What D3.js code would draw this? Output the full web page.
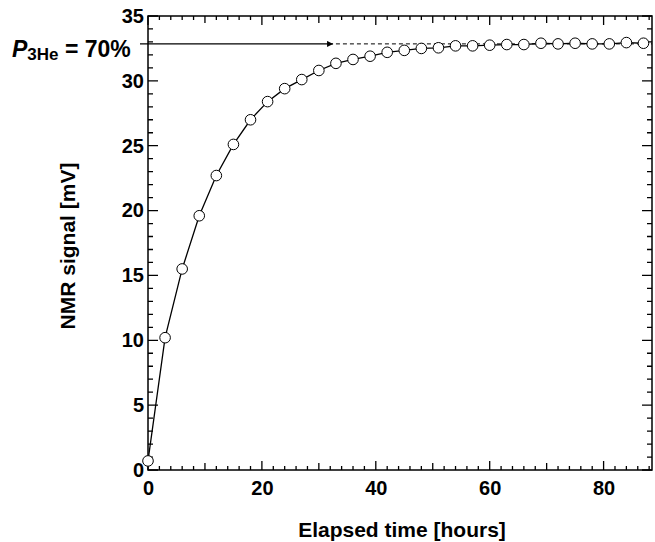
<!DOCTYPE html>
<html>
<head>
<meta charset="utf-8">
<script src="https://cdn.jsdelivr.net/npm/d3@7"></script>
<style>
  html, body { margin: 0; padding: 0; background: #fff; overflow: hidden; }
  svg { display: block; font-family: "Liberation Sans", Arial, Helvetica, sans-serif; }
  .axis text { font-size: 20px; font-weight: bold; fill: #000; }
</style>
</head>
<body>
<div id="chart"></div>
<script>
// elapsed time [hours]
const hours = [0, 3, 6, 9, 12, 15, 18, 21, 24, 27, 30, 33, 36, 39, 42, 45, 48, 51, 54, 57, 60, 63, 66, 69, 72, 75, 78, 81, 84, 87]
// NMR signal [mV]
const signal = [0.7, 10.2, 15.5, 19.6, 22.7, 25.1, 27.0, 28.4, 29.4, 30.1, 30.8, 31.35, 31.65, 31.9, 32.2, 32.35, 32.5, 32.55, 32.7, 32.7, 32.75, 32.8, 32.8, 32.9, 32.85, 32.9, 32.85, 32.85, 32.95, 32.9]
// saturation level (P_3He = 70%)
const saturation = 32.85
const xMajorTicks = [0, 20, 40, 60, 80]
const yMajorTicks = [0, 5, 10, 15, 20, 25, 30, 35]

const width = 655
const height = 542
const mLeft = 148, mRight = 652, mTop = 16, mBottom = 470

const svg = d3.select('#chart').append('svg')
  .attr('width', width)
  .attr('height', height)

const x = d3.scaleLinear().domain([0, 88.5]).range([mLeft, mRight])
const y = d3.scaleLinear().domain([0, 35]).range([mBottom, mTop])

// 目盛りの長さ
const xTickLen = (v) => v % 20 === 0 ? 9 : (v % 10 === 0 ? 7 : 4)
const yTickLen = (v) => v % 5 === 0 ? 10 : 5
const xTickVals = d3.range(0, 89, 2).concat(d3.range(10, 89, 20))
const yTickVals = d3.range(0, 36, 1)

// 枠線
svg.append('rect')
  .attr('x', mLeft).attr('y', mTop)
  .attr('width', mRight - mLeft).attr('height', mBottom - mTop)
  .attr('fill', 'none').attr('stroke', '#000').attr('stroke-width', 1.5)

// 内向きの目盛り線（1本のpathにまとめる）
const tickPath = d3.path()
xTickVals.forEach((v) => {
  tickPath.moveTo(x(v), mBottom)
  tickPath.lineTo(x(v), mBottom - xTickLen(v))
  tickPath.moveTo(x(v), mTop)
  tickPath.lineTo(x(v), mTop + xTickLen(v))
})
yTickVals.forEach((v) => {
  tickPath.moveTo(mLeft, y(v))
  tickPath.lineTo(mLeft + yTickLen(v), y(v))
  tickPath.moveTo(mRight, y(v))
  tickPath.lineTo(mRight - yTickLen(v), y(v))
})
svg.append('path')
  .attr('d', tickPath.toString())
  .attr('fill', 'none')
  .attr('stroke', '#000')
  .attr('stroke-width', 1.3)

// 目盛りラベル
const xAxisG = svg.append('g').attr('class', 'axis')
  .attr('transform', `translate(0,${mBottom})`)
  .call(d3.axisBottom(x).tickValues(xMajorTicks).tickSize(0).tickPadding(0).tickFormat(d3.format('d')))
xAxisG.select('.domain').remove()
xAxisG.selectAll('text').attr('y', 11)

const yAxisG = svg.append('g').attr('class', 'axis')
  .attr('transform', `translate(${mLeft},0)`)
  .call(d3.axisLeft(y).tickValues(yMajorTicks).tickSize(0).tickPadding(0).tickFormat(d3.format('d')))
yAxisG.select('.domain').remove()
yAxisG.selectAll('text').attr('x', -4)

// 飽和レベルの矢印と破線
svg.append('defs').append('marker')
  .attr('id', 'arrow')
  .attr('viewBox', '0 0 10 10')
  .attr('refX', 10).attr('refY', 5)
  .attr('markerWidth', 13).attr('markerHeight', 6)
  .attr('markerUnits', 'userSpaceOnUse')
  .attr('orient', 'auto')
  .append('path').attr('d', 'M0,0 L10,5 L0,10 Z').attr('fill', '#000')

svg.append('line')
  .attr('x1', x(33)).attr('x2', x(88.5))
  .attr('y1', y(saturation)).attr('y2', y(saturation))
  .attr('stroke', '#000').attr('stroke-width', 1)
  .attr('stroke-dasharray', '4,3')

svg.append('line')
  .attr('x1', mLeft - 8).attr('x2', x(32.5))
  .attr('y1', y(saturation)).attr('y2', y(saturation))
  .attr('stroke', '#000').attr('stroke-width', 1.3)
  .attr('marker-end', 'url(#arrow)')

// データ
const data = hours.map((h, i) => ({ h: h, v: signal[i] }))

svg.append('path')
  .datum(data)
  .attr('fill', 'none')
  .attr('stroke', '#000')
  .attr('stroke-width', 1.3)
  .attr('d', d3.line().x(d => x(d.h)).y(d => y(d.v)))

svg.append('g')
  .selectAll('circle')
  .data(data)
  .enter()
  .append('circle')
  .attr('cx', d => x(d.h))
  .attr('cy', d => y(d.v))
  .attr('r', 5.3)
  .attr('fill', '#fff')
  .attr('stroke', '#000')
  .attr('stroke-width', 1)

// ラベル
const pLabel = svg.append('text')
  .attr('x', 12).attr('y', 57)
  .attr('font-size', 23).attr('font-weight', 'bold')
pLabel.append('tspan').attr('font-style', 'italic').text('P')
pLabel.append('tspan').attr('font-size', 17).attr('dy', 3).text('3He')
pLabel.append('tspan').attr('dy', -3).text(' = 70%')

svg.append('text')
  .attr('x', (mLeft + mRight) / 2 + 2).attr('y', 537)
  .attr('text-anchor', 'middle')
  .attr('font-size', 21).attr('font-weight', 'bold')
  .text('Elapsed time [hours]')

svg.append('text')
  .attr('transform', 'translate(75, 246) rotate(-90)')
  .attr('text-anchor', 'middle')
  .attr('font-size', 21).attr('font-weight', 'bold')
  .text('NMR signal [mV]')
</script>
</body>
</html>
